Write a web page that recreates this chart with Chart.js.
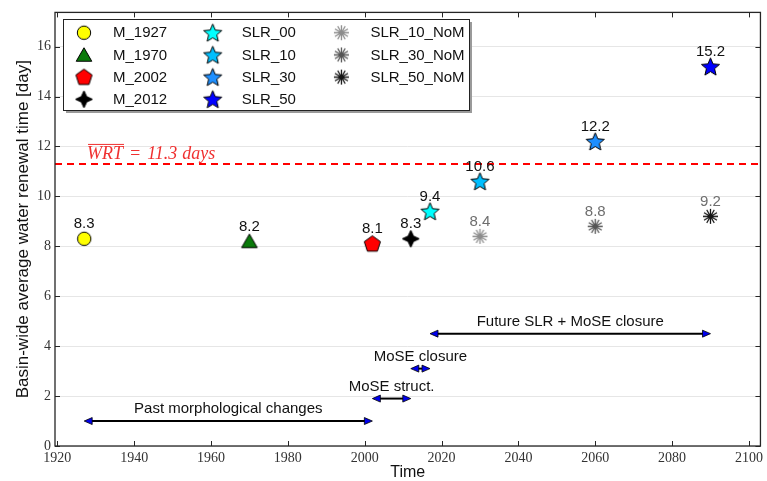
<!DOCTYPE html>
<html>
<head>
<meta charset="utf-8">
<script src="https://cdn.jsdelivr.net/npm/chart.js@4.4.1/dist/chart.umd.min.js"></script>
<style>
  html, body { margin: 0; padding: 0; background: #fff; }
  #wrap { width: 767px; height: 481px; }
</style>
</head>
<body>
<div id="wrap"><canvas id="wrtChart"></canvas></div>
<script>
// ---- data ----
const seriesNames = ['M_1927', 'M_1970', 'M_2002', 'M_2012', 'SLR_00', 'SLR_10', 'SLR_30', 'SLR_50', 'SLR_10_NoM', 'SLR_30_NoM', 'SLR_50_NoM'];
const seriesYears = [1927, 1970, 2002, 2012, 2017, 2030, 2060, 2090, 2030, 2060, 2090];
const seriesWRT = [8.3, 8.2, 8.1, 8.3, 9.4, 10.6, 12.2, 15.2, 8.4, 8.8, 9.2];
const meanWRT = 11.3;

const xTicks = [1920, 1940, 1960, 1980, 2000, 2020, 2040, 2060, 2080, 2100];
const yTicks = [0, 2, 4, 6, 8, 10, 12, 14, 16];

const periodNames = ['Past morphological changes', 'MoSE struct.', 'MoSE closure', 'Future SLR + MoSE closure'];
const periodStart = [1927, 2002, 2012, 2017];
const periodEnd = [2002, 2012, 2017, 2090];
const periodLevel = [1.0, 1.9, 3.1, 4.5];

// ---- marker styles ----
const markerKinds = ['circle', 'triangle', 'pentagon', 'star4', 'star5', 'star5', 'star5', 'star5', 'asterisk', 'asterisk', 'asterisk'];
const markerFills = ['#ffff00', '#0a7a0a', '#ff0000', '#000000', '#00ffff', '#00bfff', '#1e8fff', '#0000ff', '#8c8c8c', '#555555', '#151515'];
const markerSizes = [6.7, 9, 8.5, 8.5, 9.5, 9.5, 9.5, 9.5, 7.5, 7.5, 7.5];
const labelColors = ['#111', '#111', '#111', '#111', '#111', '#111', '#111', '#111', '#6e6e6e', '#6e6e6e', '#6e6e6e'];

function polygonPoints(n, rOuter, rInner, cx, cy) {
  const pts = [];
  const count = rInner ? n * 2 : n;
  for (let i = 0; i < count; i++) {
    const a = -Math.PI / 2 + i * Math.PI * 2 / count;
    const r = rInner && i % 2 === 1 ? rInner : rOuter;
    pts.push([cx + r * Math.cos(a), cy + r * Math.sin(a)]);
  }
  return pts;
}

function makeMarker(kind, fill, r) {
  const size = Math.ceil(2 * r + 4);
  const cv = document.createElement('canvas');
  cv.width = size;
  cv.height = size;
  const g = cv.getContext('2d');
  const c = size / 2;
  g.fillStyle = fill;
  g.strokeStyle = '#000';
  g.lineWidth = 1;
  g.lineJoin = 'round';

  if (kind === 'asterisk') {
    g.strokeStyle = fill;
    g.lineWidth = 1.3;
    g.beginPath();
    for (let i = 0; i < 6; i++) {
      const a = i * Math.PI / 6;
      g.moveTo(c + r * Math.cos(a), c + r * Math.sin(a));
      g.lineTo(c - r * Math.cos(a), c - r * Math.sin(a));
    }
    g.stroke();
    return cv;
  }

  g.beginPath();
  if (kind === 'circle') {
    g.arc(c, c, r, 0, Math.PI * 2);
  } else {
    let pts;
    if (kind === 'triangle') pts = polygonPoints(3, r, 0, c, c + r * 0.2);
    else if (kind === 'pentagon') pts = polygonPoints(5, r, 0, c, c + 0.5);
    else if (kind === 'star4') pts = polygonPoints(4, r, r * 0.45, c, c);
    else pts = polygonPoints(5, r, r * 0.45, c, c + 0.8);
    pts.forEach((p, i) => i === 0 ? g.moveTo(p[0], p[1]) : g.lineTo(p[0], p[1]));
    g.closePath();
  }
  g.fill();
  g.stroke();
  return cv;
}

const datasets = seriesNames.map((name, i) => ({
  label: name,
  data: [{ x: seriesYears[i], y: seriesWRT[i] }],
  pointStyle: makeMarker(markerKinds[i], markerFills[i], markerSizes[i]),
  showLine: false,
  labelColor: labelColors[i]
}));

// value labels above each marker
const valueLabels = {
  id: 'valueLabels',
  afterDatasetsDraw(chart) {
    const ctx = chart.ctx;
    ctx.save();
    ctx.font = '15px "Liberation Sans", Arial, sans-serif';
    ctx.textAlign = 'center';
    ctx.textBaseline = 'alphabetic';
    chart.data.datasets.forEach((ds, i) => {
      const pt = chart.getDatasetMeta(i).data[0];
      ctx.fillStyle = ds.labelColor;
      ctx.fillText(ds.data[0].y.toFixed(1), pt.x, pt.y - 10.5);
    });
    ctx.restore();
  }
};

// mean WRT dashed line with its math-style label
const meanLine = {
  id: 'meanLine',
  beforeDatasetsDraw(chart) {
    const ctx = chart.ctx;
    const area = chart.chartArea;
    const y = chart.scales.y.getPixelForValue(meanWRT);
    ctx.save();
    ctx.strokeStyle = '#ff0000';
    ctx.lineWidth = 2;
    ctx.setLineDash([7, 5]);
    ctx.beginPath();
    ctx.moveTo(area.left, y);
    ctx.lineTo(area.right, y);
    ctx.stroke();
    ctx.setLineDash([]);

    ctx.fillStyle = '#f03030';
    ctx.font = 'italic 18px "Liberation Serif", "DejaVu Serif", serif';
    ctx.textBaseline = 'alphabetic';
    let x = area.left + 32;
    const yb = y - 5;
    const pieces = [['WRT', 6], ['=', 6], ['11.3', 5], ['days', 0]];
    let overEnd = x;
    pieces.forEach(([txt, gap], k) => {
      ctx.fillText(txt, x, yb);
      x += ctx.measureText(txt).width;
      if (k === 0) overEnd = x;
      x += gap;
    });
    ctx.strokeStyle = '#f03030';
    ctx.lineWidth = 1;
    ctx.beginPath();
    ctx.moveTo(area.left + 33, yb - 14.5);
    ctx.lineTo(overEnd + 1, yb - 14.5);
    ctx.stroke();
    ctx.restore();
  }
};

// double-headed period arrows
const periodArrows = {
  id: 'periodArrows',
  afterDatasetsDraw(chart) {
    const ctx = chart.ctx;
    const xs = chart.scales.x;
    const ys = chart.scales.y;
    ctx.save();
    periodNames.forEach((name, i) => {
      const x1 = xs.getPixelForValue(periodStart[i]);
      const x2 = xs.getPixelForValue(periodEnd[i]);
      const y = ys.getPixelForValue(periodLevel[i]);
      ctx.strokeStyle = '#000';
      ctx.lineWidth = 2;
      ctx.beginPath();
      ctx.moveTo(x1 + 4, y);
      ctx.lineTo(x2 - 4, y);
      ctx.stroke();
      [[x1, 1], [x2, -1]].forEach(([xp, dir]) => {
        ctx.beginPath();
        ctx.moveTo(xp, y);
        ctx.lineTo(xp + dir * 8, y - 3.5);
        ctx.lineTo(xp + dir * 8, y + 3.5);
        ctx.closePath();
        ctx.fillStyle = '#0000ee';
        ctx.fill();
        ctx.lineWidth = 0.8;
        ctx.strokeStyle = '#000';
        ctx.stroke();
      });
      ctx.fillStyle = '#111';
      ctx.font = '15px "Liberation Sans", Arial, sans-serif';
      ctx.textAlign = 'center';
      ctx.textBaseline = 'alphabetic';
      ctx.fillText(name, (x1 + x2) / 2, y - 8);
    });
    ctx.restore();
  }
};

// frame with inward ticks
const frame = {
  id: 'frame',
  afterDraw(chart) {
    const ctx = chart.ctx;
    const a = chart.chartArea;
    const xs = chart.scales.x;
    const ys = chart.scales.y;
    ctx.save();
    ctx.strokeStyle = '#262626';
    ctx.lineWidth = 1;
    ctx.beginPath();
    xTicks.forEach(v => {
      const x = Math.round(xs.getPixelForValue(v)) + 0.5;
      ctx.moveTo(x, a.bottom); ctx.lineTo(x, a.bottom - 5);
      ctx.moveTo(x, a.top); ctx.lineTo(x, a.top + 5);
    });
    yTicks.forEach(v => {
      const y = Math.round(ys.getPixelForValue(v)) + 0.5;
      ctx.moveTo(a.left, y); ctx.lineTo(a.left + 5, y);
      ctx.moveTo(a.right, y); ctx.lineTo(a.right - 5, y);
    });
    ctx.stroke();
    ctx.lineWidth = 1.3;
    ctx.strokeRect(a.left, a.top, a.right - a.left, a.bottom - a.top);
    ctx.restore();
  }
};

// legend box, three columns filled top-down
const columnLegend = {
  id: 'columnLegend',
  afterDraw(chart) {
    const ctx = chart.ctx;
    const bx = 63, by = 19, bw = 406, bh = 91;
    ctx.save();
    ctx.fillStyle = '#9a9a9a';
    ctx.fillRect(bx + 3, by + 3, bw, bh);
    ctx.fillStyle = '#fff';
    ctx.fillRect(bx, by, bw, bh);
    ctx.strokeStyle = '#222';
    ctx.lineWidth = 1;
    ctx.strokeRect(bx + 0.5, by + 0.5, bw, bh);
    ctx.font = '15px "Liberation Sans", Arial, sans-serif';
    ctx.textBaseline = 'middle';
    ctx.fillStyle = '#111';
    chart.data.datasets.forEach((ds, i) => {
      const col = Math.floor(i / 4);
      const row = i % 4;
      const mx = 84 + col * 128.7;
      const my = 32.7 + row * 22.2;
      const img = ds.pointStyle;
      ctx.drawImage(img, mx - img.width / 2, my - img.height / 2);
      ctx.fillText(ds.label, mx + 29, my + 0.5);
    });
    ctx.restore();
  }
};

new Chart(document.getElementById('wrtChart'), {
  type: 'scatter',
  data: { datasets: datasets },
  options: {
    responsive: true,
    maintainAspectRatio: false,
    animation: false,
    events: [],
    layout: { padding: { top: 10, right: 2, left: 0, bottom: 0 } },
    plugins: {
      legend: { display: false },
      tooltip: { enabled: false }
    },
    scales: {
      x: {
        type: 'linear',
        min: 1919.4,
        max: 2103,
        afterBuildTicks: scale => { scale.ticks = xTicks.map(v => ({ value: v })); },
        afterFit: scale => { scale.height = 35; },
        grid: { display: false, drawTicks: false, tickLength: 0 },
        border: { display: false },
        ticks: {
          color: '#333',
          padding: 4,
          maxRotation: 0,
          callback: v => String(v),
          font: { family: '"Liberation Serif", "DejaVu Serif", serif', size: 14 }
        },
        title: {
          display: true,
          text: 'Time',
          color: '#111',
          padding: { top: 0, bottom: -1 },
          font: { family: '"Liberation Sans", Arial, sans-serif', size: 16 }
        }
      },
      y: {
        type: 'linear',
        min: 0,
        max: 17.37,
        afterBuildTicks: scale => { scale.ticks = yTicks.map(v => ({ value: v })); },
        afterFit: scale => { scale.width = 55; },
        grid: { color: '#e6e6e6', lineWidth: 1, drawTicks: false },
        border: { display: false },
        ticks: {
          color: '#333',
          padding: 4,
          font: { family: '"Liberation Serif", "DejaVu Serif", serif', size: 14 }
        },
        title: {
          display: true,
          text: 'Basin-wide average water renewal time [day]',
          color: '#111',
          padding: { top: 13, bottom: 0 },
          font: { family: '"Liberation Sans", Arial, sans-serif', size: 17 }
        }
      }
    }
  },
  plugins: [meanLine, valueLabels, periodArrows, frame, columnLegend]
});
</script>
</body>
</html>
